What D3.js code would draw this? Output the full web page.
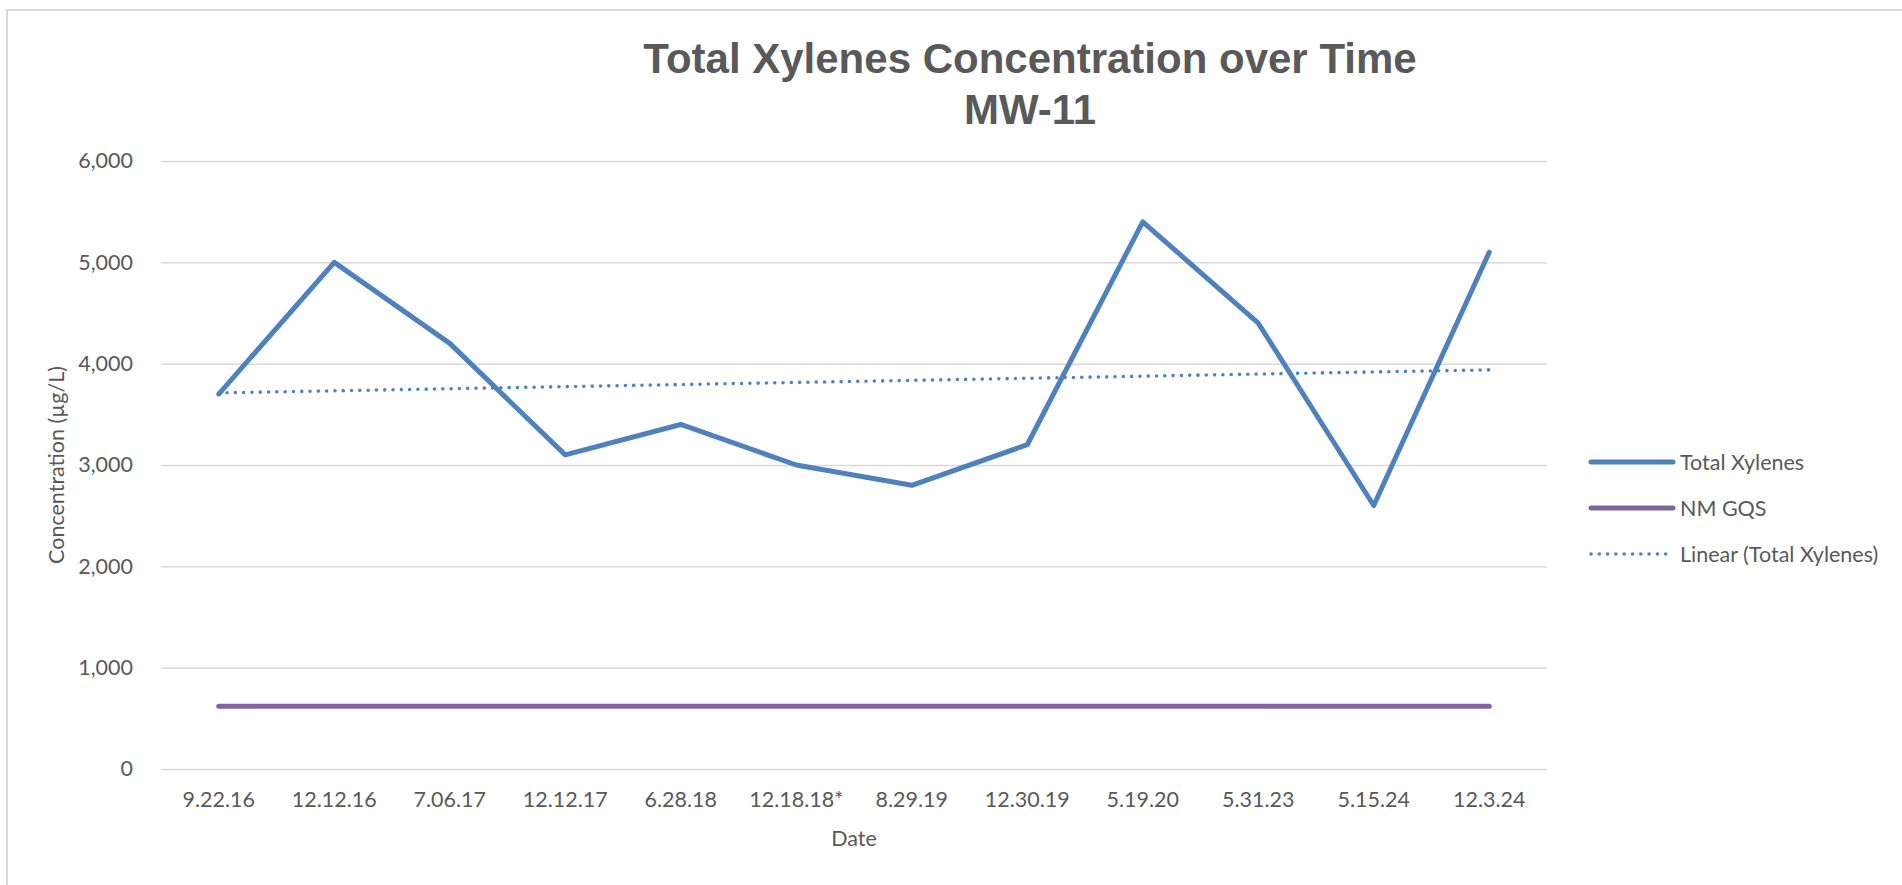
<!DOCTYPE html>
<html>
<head>
<meta charset="utf-8">
<script src="https://cdn.jsdelivr.net/npm/d3@7/dist/d3.min.js"></script>
<style>
  html, body { margin: 0; padding: 0; background: #fff; overflow: hidden; }
  svg { display: block; }
</style>
</head>
<body>
<svg id="chart" width="1902" height="885"></svg>
<script>
// ---- Data ----
const categories = ["9.22.16", "12.12.16", "7.06.17", "12.12.17", "6.28.18", "12.18.18*", "8.29.19", "12.30.19", "5.19.20", "5.31.23", "5.15.24", "12.3.24"];
const totalXylenes = [3700, 5000, 4200, 3100, 3400, 3000, 2800, 3200, 5400, 4400, 2600, 5100];
const nmGQS = [620, 620, 620, 620, 620, 620, 620, 620, 620, 620, 620, 620];
const yTicks = [0, 1000, 2000, 3000, 4000, 5000, 6000];
const titleLines = ["Total Xylenes Concentration over Time", "MW-11"];
const legendLabels = ["Total Xylenes", "NM GQS", "Linear (Total Xylenes)"];

// Linear trendline (least squares over category index), as the spreadsheet computes it
const n = totalXylenes.length;
const xs = d3.range(1, n + 1);
const mx = d3.mean(xs), my = d3.mean(totalXylenes);
const slope = d3.sum(xs, (x, i) => (x - mx) * (totalXylenes[i] - my)) / d3.sum(xs, x => (x - mx) ** 2);
const intercept = my - slope * mx;
const trend = xs.map(x => intercept + slope * x);

// ---- Layout ----
const svg = d3.select("#chart");
const plot = { left: 161, right: 1547, top: 161, bottom: 769 };
const textColor = "#595959";
const gridColor = "#D9D9D9";
const blue = "#4F81BD";
const purple = "#8064A2";
const axisFont = "Lato, 'Liberation Sans', sans-serif";

// chart border (right and bottom edges lie outside the picture)
svg.append("rect")
  .attr("x", 7).attr("y", 10)
  .attr("width", 2100).attr("height", 1000)
  .attr("fill", "none").attr("stroke", gridColor).attr("stroke-width", 2);

const x = d3.scaleBand().domain(categories).range([plot.left, plot.right]).padding(0);
const y = d3.scaleLinear().domain([0, 6000]).range([plot.bottom, plot.top]);
const cx = c => x(c) + x.bandwidth() / 2;

// gridlines via axis
const gridAxis = d3.axisLeft(y).tickValues(yTicks).tickSize(-(plot.right - plot.left)).tickFormat("");
const g = svg.append("g").attr("transform", `translate(${plot.left},0)`).call(gridAxis);
g.select(".domain").remove();
g.selectAll(".tick line").attr("stroke", gridColor).attr("stroke-width", 1.5);

// y axis labels
const yAxis = d3.axisLeft(y).tickValues(yTicks).tickSize(0).tickPadding(0).tickFormat(d3.format(","));
const ya = svg.append("g").attr("transform", `translate(133,0)`).call(yAxis);
ya.select(".domain").remove();
ya.selectAll("text").attr("font-family", axisFont).attr("font-size", 21.5).attr("fill", textColor);

// x axis labels
const xAxis = d3.axisBottom(x).tickSize(0).tickPadding(0);
const xa = svg.append("g").attr("transform", `translate(0,${plot.bottom + 23})`).call(xAxis);
xa.select(".domain").remove();
xa.selectAll("text").attr("font-family", axisFont).attr("font-size", 21.5).attr("fill", textColor);

// axis titles
svg.append("text")
  .attr("transform", `translate(64,${(plot.top + plot.bottom) / 2}) rotate(-90)`)
  .attr("text-anchor", "middle")
  .attr("font-family", axisFont).attr("font-size", 21.5).attr("fill", textColor)
  .text("Concentration (µg/L)");
svg.append("text")
  .attr("x", (plot.left + plot.right) / 2).attr("y", 846)
  .attr("text-anchor", "middle")
  .attr("font-family", axisFont).attr("font-size", 21.5).attr("fill", textColor)
  .text("Date");

// title
svg.append("text")
  .attr("x", 1030).attr("y", 73)
  .attr("text-anchor", "middle")
  .attr("font-family", "'Liberation Sans', Arial, sans-serif").attr("font-weight", "bold")
  .attr("font-size", 42).attr("fill", textColor)
  .text(titleLines[0]);
svg.append("text")
  .attr("x", 1030).attr("y", 124)
  .attr("text-anchor", "middle")
  .attr("font-family", "'Liberation Sans', Arial, sans-serif").attr("font-weight", "bold")
  .attr("font-size", 42).attr("fill", textColor)
  .text(titleLines[1]);

// series
const line = d3.line().x((d, i) => cx(categories[i])).y(d => y(d));

svg.append("path").datum(nmGQS)
  .attr("d", line).attr("fill", "none")
  .attr("stroke", purple).attr("stroke-width", 5).attr("stroke-linecap", "round");

svg.append("path").datum(totalXylenes)
  .attr("d", line).attr("fill", "none")
  .attr("stroke", blue).attr("stroke-width", 5)
  .attr("stroke-linecap", "round").attr("stroke-linejoin", "round");

svg.append("path").datum(trend)
  .attr("d", line).attr("fill", "none")
  .attr("stroke", blue).attr("stroke-width", 3.6)
  .attr("stroke-linecap", "round").attr("stroke-dasharray", "0 8.3");

// legend
const legend = svg.append("g");
const legendY = [462, 508, 554];
const legendStyles = [
  { color: blue, width: 5, dash: null },
  { color: purple, width: 5, dash: null },
  { color: blue, width: 3.6, dash: "0 8.3" }
];
legendLabels.forEach((lab, i) => {
  const s = legendStyles[i];
  const ln = legend.append("line")
    .attr("x1", 1591).attr("x2", 1673)
    .attr("y1", legendY[i]).attr("y2", legendY[i])
    .attr("stroke", s.color).attr("stroke-width", s.width).attr("stroke-linecap", "round");
  if (s.dash) ln.attr("stroke-dasharray", s.dash);
  legend.append("text")
    .attr("x", 1680).attr("y", legendY[i])
    .attr("dy", "0.35em")
    .attr("font-family", axisFont).attr("font-size", 21.5).attr("fill", textColor)
    .text(lab);
});
</script>
</body>
</html>
